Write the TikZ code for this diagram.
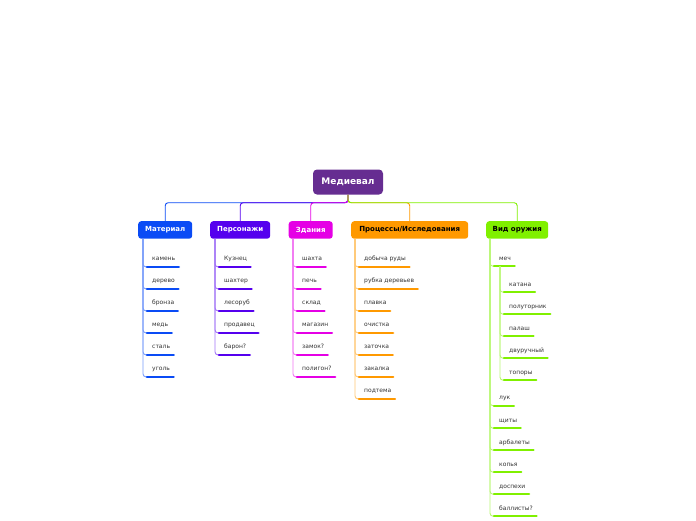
\documentclass[tikz,border=0pt]{standalone}
\usepackage{fontspec}
\setmainfont{DejaVu Sans}
\definecolor{cRoot}{HTML}{662D91}
\definecolor{cMat}{HTML}{0A4BF5}
\definecolor{cPer}{HTML}{5500EE}
\definecolor{cZd}{HTML}{E500E5}
\definecolor{cPr}{HTML}{FF9900}
\definecolor{cVo}{HTML}{80F000}
\definecolor{txt}{HTML}{333333}
\tikzset{
 rootbox/.style={fill=cRoot, rounded corners=4pt, text=white, font=\bfseries\fontsize{9}{10}\selectfont, minimum width=70pt, minimum height=25pt, inner sep=0pt},
 catbox/.style={fill=#1, rounded corners=3pt, font=\bfseries\fontsize{7}{8}\selectfont, minimum height=17.5pt, inner sep=0pt, anchor=north west},
 leaf/.style={font=\fontsize{6}{7}\selectfont, text=txt, inner xsep=5pt, inner ysep=0pt, text depth=0pt, anchor=base west},
 ul/.style={line width=2.4pt, line cap=round, draw=#1},
 conn/.style={draw=#1, line width=0.9pt, rounded corners=3pt},
 stem/.style={draw=#1!55, line width=0.9pt, rounded corners=3pt},
}
\begin{document}
\begin{tikzpicture}[x=1pt,y=-1pt]
\path[use as bounding box] (0,0) rectangle (696,520);
\node[rootbox] (root) at (348,182) {Медиевал};
\node[catbox=cMat, minimum width=54pt, text=white] (mat) at (138,221) {Материал};
\node[catbox=cPer, minimum width=60pt, text=white] (per) at (210,221) {Персонажи};
\node[catbox=cZd, minimum width=44pt, text=white] (zd) at (288.5,221) {Здания};
\node[catbox=cPr, minimum width=117pt, text=black] (pr) at (351,221) {Процессы/Исследования};
\node[catbox=cVo, minimum width=62pt, text=black] (vo) at (486,221) {Вид оружия};
\draw[conn=cMat] (root.south) -- ++(0,8) -| (mat.north);
\draw[conn=cPer] (root.south) -- ++(0,8) -| (per.north);
\draw[conn=cZd] (root.south) -- ++(0,8) -| (zd.north);
\draw[conn=cPr] (root.south) -- ++(0,8) -| (pr.north);
\draw[conn=cVo] (root.south) -- ++(0,8) -| (vo.north);
% Material
\foreach \t [count=\i] in {камень,дерево,бронза,медь,сталь,уголь}{
 \node[leaf] (mat\i) at (147,{238.7+22*\i}) {\t};
 \draw[stem=cMat] ([xshift=5pt]mat.south west) |- ([yshift=-6pt]mat\i.south west);
 \draw[ul=cMat] ([yshift=-6pt]mat\i.south west) -- ([xshift=-1.5pt,yshift=-6pt]mat\i.south east);
}
% Personazhi
\foreach \t [count=\i] in {Кузнец,шахтер,лесоруб,продавец,барон?}{
 \node[leaf] (per\i) at (219,{238.7+22*\i}) {\t};
 \draw[stem=cPer] ([xshift=5pt]per.south west) |- ([yshift=-6pt]per\i.south west);
 \draw[ul=cPer] ([yshift=-6pt]per\i.south west) -- ([xshift=-1.5pt,yshift=-6pt]per\i.south east);
}
% Zdaniya
\foreach \t [count=\i] in {шахта,печь,склад,магазин,замок?,полигон?}{
 \node[leaf] (zd\i) at (297,{238.7+22*\i}) {\t};
 \draw[stem=cZd] ([xshift=4.5pt]zd.south west) |- ([yshift=-6pt]zd\i.south west);
 \draw[ul=cZd] ([yshift=-6pt]zd\i.south west) -- ([xshift=-1.5pt,yshift=-6pt]zd\i.south east);
}
% Processy
\foreach \t [count=\i] in {добыча руды,рубка деревьев,плавка,очистка,заточка,закалка,подтема}{
 \node[leaf] (pr\i) at (359,{238.7+22*\i}) {\t};
 \draw[stem=cPr] ([xshift=4pt]pr.south west) |- ([yshift=-6pt]pr\i.south west);
 \draw[ul=cPr] ([yshift=-6pt]pr\i.south west) -- ([xshift=-1.5pt,yshift=-6pt]pr\i.south east);
}
% Vid oruzhiya
\foreach \t/\y [count=\i] in {меч/266,лук/405.5,щиты/428,арбалеты/450,копья/472,доспехи/494,баллисты?/516}{
 \node[leaf] (vo\i) at (494,{\y-6}) {\t};
 \draw[stem=cVo] ([xshift=4pt]vo.south west) |- ([yshift=-6pt]vo\i.south west);
 \draw[ul=cVo] ([yshift=-6pt]vo\i.south west) -- ([xshift=-1.5pt,yshift=-6pt]vo\i.south east);
}
\foreach \t/\y [count=\i] in {катана/292,полуторник/314,палаш/336,двуручный/358,топоры/380}{
 \node[leaf] (mech\i) at (504,{\y-6}) {\t};
 \draw[stem=cVo] ([xshift=6pt,yshift=-6pt]vo1.south west) |- ([yshift=-6pt]mech\i.south west);
 \draw[ul=cVo] ([yshift=-6pt]mech\i.south west) -- ([xshift=-1.5pt,yshift=-6pt]mech\i.south east);
}
\end{tikzpicture}
\end{document}
